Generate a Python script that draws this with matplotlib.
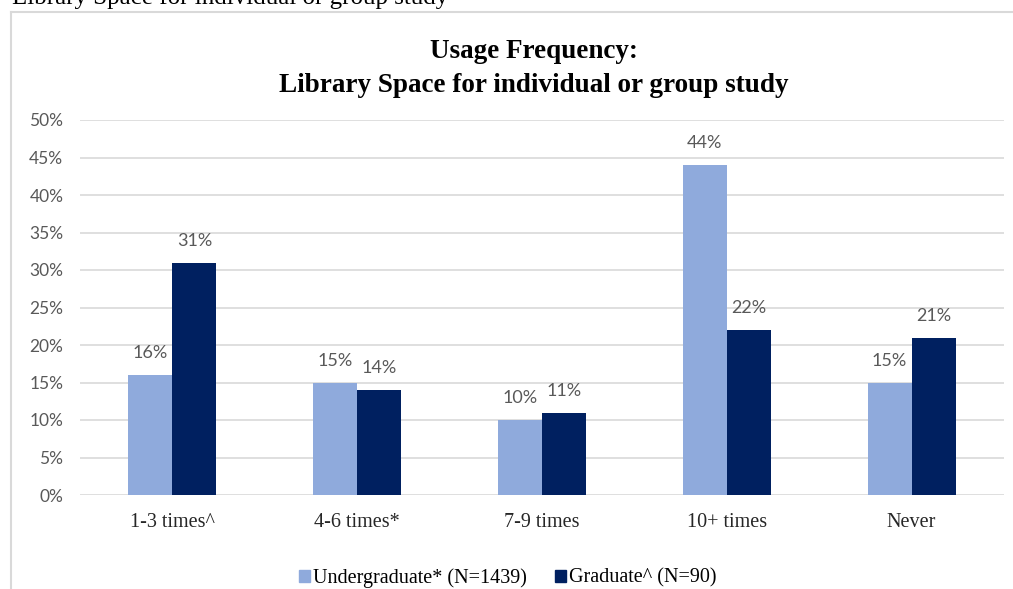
import numpy as np
import matplotlib
matplotlib.use("Agg")
import matplotlib.pyplot as plt
from matplotlib.lines import Line2D
from matplotlib.patches import Patch

categories = ["1-3 times^", "4-6 times*", "7-9 times", "10+ times", "Never"]
undergrad = [16, 15, 10, 44, 15]
graduate = [31, 14, 11, 22, 21]
series_names = ["Undergraduate* (N=1439)", "Graduate^ (N=90)"]
yticks = [0, 5, 10, 15, 20, 25, 30, 35, 40, 45, 50]

LIGHT = "#8FAADC"
DARK = "#002060"
GRAY = "#595959"
SANS = ["Lato", "DejaVu Sans"]
SERIF = ["Liberation Serif", "DejaVu Serif"]

W, H = 1013, 589
fig = plt.figure(figsize=(W / 100, H / 100), dpi=100)
ax = fig.add_axes([80 / W, 1 - 495 / H, (1004 - 80) / W, (495 - 120) / H])

x = np.arange(len(categories))
bw = 0.238
b1 = ax.bar(x - bw / 2, undergrad, bw, color=LIGHT, zorder=2)
b2 = ax.bar(x + bw / 2, graduate, bw, color=DARK, zorder=2)

for bars, vals in ((b1, undergrad), (b2, graduate)):
    for r, v in zip(bars, vals):
        ax.text(r.get_x() + r.get_width() / 2, v + 2.9, f"{v}%", ha="center",
                va="center", fontsize=13, color=GRAY, family=SANS)

ax.set_xlim(-0.5, len(categories) - 0.5)
ax.set_ylim(0, 50)
ax.set_yticks(yticks)
ax.set_yticklabels([f"{t}%" for t in yticks], fontsize=12.5, color=GRAY, family=SANS)
ax.set_xticks(x)
ax.set_xticklabels(categories, fontsize=14.5, family=SERIF, color="#262626")
ax.tick_params(length=0)
ax.tick_params(axis="y", pad=12)
ax.tick_params(axis="x", pad=13)
ax.yaxis.grid(True, color="#D9D9D9", lw=1.2, zorder=0)
for s in ax.spines.values():
    s.set_visible(False)

fig.text(534 / W, 1 - 52 / H, "Usage Frequency:", ha="center", va="center",
         fontsize=19.5, fontweight="bold", family=SERIF)
fig.text(534 / W, 1 - 86 / H, "Library Space for individual or group study", ha="center",
         va="center", fontsize=19.5, fontweight="bold", family=SERIF)

# cut-off caption at the very top
fig.text(12 / W, 1 - 4 / H, "Library Space for individual or group study", ha="left",
         va="baseline", fontsize=18, family=SERIF)

# chart frame
fig.add_artist(Line2D([11 / W, 1], [1 - 12 / H] * 2, color="#D9D9D9", lw=1.5))
fig.add_artist(Line2D([11 / W] * 2, [0, 1 - 12 / H], color="#D9D9D9", lw=1.5))

handles = [Patch(color=LIGHT), Patch(color=DARK)]
fig.legend(handles, series_names, loc="center", bbox_to_anchor=(508 / W, 1 - 578 / H),
           ncol=2, frameon=False, handlelength=0.55, handleheight=0.55, handletextpad=0.15,
           columnspacing=1.4, prop={"family": SERIF, "size": 14.5})

fig.savefig("out.png", dpi=100)
